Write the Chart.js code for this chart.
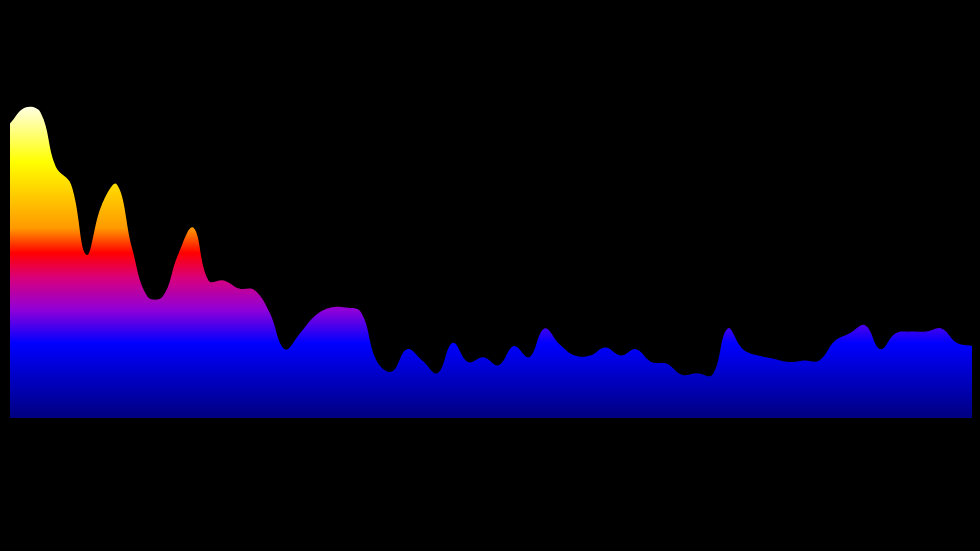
<!DOCTYPE html>
<html>
<head>
<meta charset="utf-8">
<script src="https://cdn.jsdelivr.net/npm/chart.js"></script>
<style>
  html, body { margin: 0; padding: 0; background: #000; }
  #wrap { width: 980px; height: 551px; position: relative; }
</style>
</head>
<body>
<div id="wrap"><canvas id="spectrum"></canvas></div>
<script>
// 64 frequency bins, byte levels 0-255
const bins = Array.from({ length: 64 }, (_, i) => String(i));
const levels = [
  184, 194, 191, 157, 146, 102, 133, 146, 106, 76,
  76, 102, 119, 86, 86, 81, 80, 66, 43, 53,
  64, 69, 69, 66, 36, 29, 43, 36, 28, 47,
  35, 38, 33, 45, 38, 56, 46, 39, 39, 44,
  39, 43, 35, 34, 27, 28, 27, 56, 43, 39,
  37, 35, 36, 36, 48, 53, 58, 43, 53, 54,
  54, 56, 47, 45
];
const levelMax = 255;

// fire palette, bottom (0) to top (1)
const paletteStops = [0, 0.236, 0.34, 0.44, 0.519, 0.597, 0.805, 1];
const paletteColors = ['#000080', '#0000ff', '#9000d8', '#d8007c', '#ff0000', '#ff9900', '#ffff00', '#ffffff'];

function fireGradient(context) {
  const { ctx, chartArea } = context.chart;
  if (!chartArea) return '#0000ff';
  const grad = ctx.createLinearGradient(0, chartArea.bottom, 0, chartArea.bottom - 318);
  paletteStops.forEach((s, i) => grad.addColorStop(s, paletteColors[i]));
  return grad;
}

new Chart(document.getElementById('spectrum'), {
  type: 'line',
  data: {
    labels: bins,
    datasets: [{
      data: levels,
      fill: 'origin',
      backgroundColor: fireGradient,
      borderWidth: 0,
      pointRadius: 0,
      tension: 0.4
    }]
  },
  options: {
    responsive: true,
    maintainAspectRatio: false,
    animation: false,
    layout: { padding: { left: 10, right: 8, top: 10, bottom: 133 } },
    scales: {
      x: { display: false },
      y: { display: false, min: 0, max: levelMax }
    },
    plugins: {
      legend: { display: false },
      tooltip: { enabled: false }
    }
  }
});
</script>
</body>
</html>
